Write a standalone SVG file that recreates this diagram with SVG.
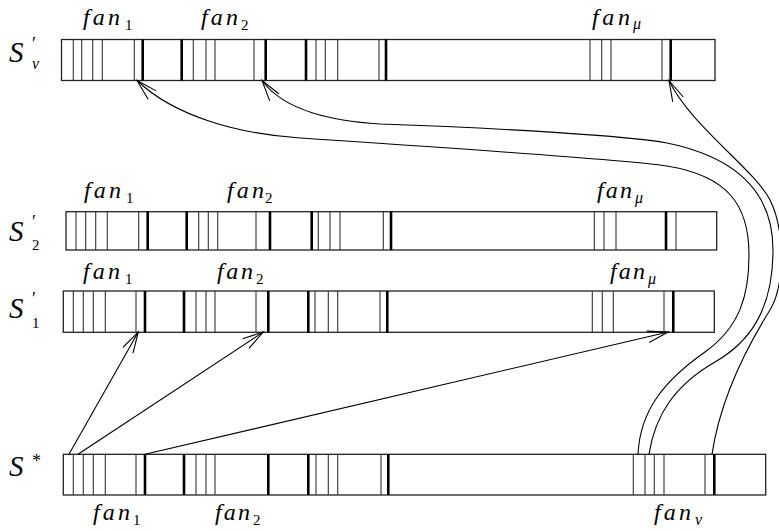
<svg xmlns="http://www.w3.org/2000/svg" width="779" height="531" viewBox="0 0 779 531">
<defs>
<style>
.bar{fill:#fff;stroke:#222;stroke-width:1.3}
.tn{stroke:#333;stroke-width:1.1}
.tk{stroke:#000;stroke-width:2.6}
.fan{font-family:"Liberation Serif",serif;font-style:italic;font-size:24px;fill:#000}
.sub{font-family:"Liberation Serif",serif;font-size:15px;fill:#000}
.subi{font-family:"Liberation Serif",serif;font-style:italic;font-size:16px;fill:#000}
.S{font-family:"Liberation Serif",serif;font-style:italic;font-size:29px;fill:#000}
.pr{font-family:"Liberation Serif",serif;font-size:18px;fill:#000}
.con{fill:none;stroke:#000;stroke-width:1.1}
</style>
<marker id="ah" markerUnits="userSpaceOnUse" markerWidth="30" markerHeight="30" refX="0" refY="0" viewBox="-25 -12 30 24" orient="auto" overflow="visible">
<path d="M-21,-5.8 L0,0 L-21,5.8" fill="none" stroke="#000" stroke-width="1.1"/>
</marker>
</defs>

<g id="Snu">
<rect class="bar" x="61.5" y="39.5" width="653.5" height="41"/>
<g class="tn">
<line x1="73.3" y1="39.5" x2="73.3" y2="80.5"/><line x1="81.7" y1="39.5" x2="81.7" y2="80.5"/><line x1="92.7" y1="39.5" x2="92.7" y2="80.5"/><line x1="102.3" y1="39.5" x2="102.3" y2="80.5"/><line x1="134.3" y1="39.5" x2="134.3" y2="80.5"/><line x1="193.3" y1="39.5" x2="193.3" y2="80.5"/><line x1="206" y1="39.5" x2="206" y2="80.5"/><line x1="215" y1="39.5" x2="215" y2="80.5"/><line x1="254" y1="39.5" x2="254" y2="80.5"/><line x1="316" y1="39.5" x2="316" y2="80.5"/><line x1="325.3" y1="39.5" x2="325.3" y2="80.5"/><line x1="337.7" y1="39.5" x2="337.7" y2="80.5"/><line x1="379" y1="39.5" x2="379" y2="80.5"/><line x1="590" y1="39.5" x2="590" y2="80.5"/><line x1="601.7" y1="39.5" x2="601.7" y2="80.5"/><line x1="611" y1="39.5" x2="611" y2="80.5"/><line x1="662" y1="39.5" x2="662" y2="80.5"/>
</g>
<g class="tk">
<line x1="142.7" y1="39.5" x2="142.7" y2="80.5"/><line x1="181.7" y1="39.5" x2="181.7" y2="80.5"/><line x1="265.7" y1="39.5" x2="265.7" y2="80.5"/><line x1="306" y1="39.5" x2="306" y2="80.5"/><line x1="386" y1="39.5" x2="386" y2="80.5"/><line x1="670.7" y1="39.5" x2="670.7" y2="80.5"/>
</g>
<text class="S" x="9" y="61.5">S</text><text class="pr" x="32" y="50">′</text><text class="subi" x="32" y="69">ν</text>
<text class="fan" x="83" y="25" textLength="37" lengthAdjust="spacing">fan</text><text class="sub" x="125" y="30">1</text>
<text class="fan" x="201" y="25" textLength="37" lengthAdjust="spacing">fan</text><text class="sub" x="241" y="30">2</text>
<text class="fan" x="592" y="25" textLength="38" lengthAdjust="spacing">fan</text><text class="subi" x="633" y="29">μ</text>
</g>

<g id="S2">
<rect class="bar" x="66" y="211.7" width="650.7" height="38.3"/>
<g class="tn">
<line x1="76" y1="211.7" x2="76" y2="250"/><line x1="85.7" y1="211.7" x2="85.7" y2="250"/><line x1="95.7" y1="211.7" x2="95.7" y2="250"/><line x1="107.3" y1="211.7" x2="107.3" y2="250"/><line x1="138.7" y1="211.7" x2="138.7" y2="250"/><line x1="198.7" y1="211.7" x2="198.7" y2="250"/><line x1="208.3" y1="211.7" x2="208.3" y2="250"/><line x1="217.7" y1="211.7" x2="217.7" y2="250"/><line x1="256" y1="211.7" x2="256" y2="250"/><line x1="318.3" y1="211.7" x2="318.3" y2="250"/><line x1="330" y1="211.7" x2="330" y2="250"/><line x1="340" y1="211.7" x2="340" y2="250"/><line x1="383.3" y1="211.7" x2="383.3" y2="250"/><line x1="594.3" y1="211.7" x2="594.3" y2="250"/><line x1="604" y1="211.7" x2="604" y2="250"/><line x1="616" y1="211.7" x2="616" y2="250"/><line x1="676" y1="211.7" x2="676" y2="250"/>
</g>
<g class="tk">
<line x1="147.7" y1="211.7" x2="147.7" y2="250"/><line x1="186.7" y1="211.7" x2="186.7" y2="250"/><line x1="270" y1="211.7" x2="270" y2="250"/><line x1="311.7" y1="211.7" x2="311.7" y2="250"/><line x1="391" y1="211.7" x2="391" y2="250"/><line x1="666" y1="211.7" x2="666" y2="250"/>
</g>
<text class="S" x="9" y="241">S</text><text class="pr" x="32" y="228">′</text><text class="sub" x="32" y="250">2</text>
<text class="fan" x="84" y="198" textLength="37" lengthAdjust="spacing">fan</text><text class="sub" x="126" y="203">1</text>
<text class="fan" x="227" y="198" textLength="37" lengthAdjust="spacing">fan</text><text class="sub" x="265" y="203">2</text>
<text class="fan" x="597" y="198" textLength="35" lengthAdjust="spacing">fan</text><text class="subi" x="635" y="203">μ</text>
</g>

<g id="S1">
<rect class="bar" x="63.3" y="291" width="651" height="41.3"/>
<g class="tn">
<line x1="73.3" y1="291" x2="73.3" y2="332.3"/><line x1="83.3" y1="291" x2="83.3" y2="332.3"/><line x1="93.3" y1="291" x2="93.3" y2="332.3"/><line x1="105.3" y1="291" x2="105.3" y2="332.3"/><line x1="136" y1="291" x2="136" y2="332.3"/><line x1="196" y1="291" x2="196" y2="332.3"/><line x1="206" y1="291" x2="206" y2="332.3"/><line x1="215" y1="291" x2="215" y2="332.3"/><line x1="256" y1="291" x2="256" y2="332.3"/><line x1="315" y1="291" x2="315" y2="332.3"/><line x1="328.3" y1="291" x2="328.3" y2="332.3"/><line x1="337.7" y1="291" x2="337.7" y2="332.3"/><line x1="380" y1="291" x2="380" y2="332.3"/><line x1="592.3" y1="291" x2="592.3" y2="332.3"/><line x1="602.3" y1="291" x2="602.3" y2="332.3"/><line x1="613.3" y1="291" x2="613.3" y2="332.3"/><line x1="664" y1="291" x2="664" y2="332.3"/>
</g>
<g class="tk">
<line x1="145" y1="291" x2="145" y2="332.3"/><line x1="184" y1="291" x2="184" y2="332.3"/><line x1="268.3" y1="291" x2="268.3" y2="332.3"/><line x1="308.3" y1="291" x2="308.3" y2="332.3"/><line x1="387.3" y1="291" x2="387.3" y2="332.3"/><line x1="673.3" y1="291" x2="673.3" y2="332.3"/>
</g>
<text class="S" x="9" y="318">S</text><text class="pr" x="32" y="305">′</text><text class="sub" x="32" y="328">1</text>
<text class="fan" x="83" y="279" textLength="37" lengthAdjust="spacing">fan</text><text class="sub" x="125" y="284">1</text>
<text class="fan" x="217" y="279" textLength="36" lengthAdjust="spacing">fan</text><text class="sub" x="256" y="284">2</text>
<text class="fan" x="610" y="279" textLength="35" lengthAdjust="spacing">fan</text><text class="subi" x="648" y="284">μ</text>
</g>

<g id="Sstar">
<rect class="bar" x="63.3" y="454.3" width="702.4" height="40.7"/>
<g class="tn">
<line x1="73.3" y1="454.3" x2="73.3" y2="495"/><line x1="83.3" y1="454.3" x2="83.3" y2="495"/><line x1="93.3" y1="454.3" x2="93.3" y2="495"/><line x1="105.3" y1="454.3" x2="105.3" y2="495"/><line x1="136" y1="454.3" x2="136" y2="495"/><line x1="196" y1="454.3" x2="196" y2="495"/><line x1="206" y1="454.3" x2="206" y2="495"/><line x1="215" y1="454.3" x2="215" y2="495"/><line x1="316" y1="454.3" x2="316" y2="495"/><line x1="328.3" y1="454.3" x2="328.3" y2="495"/><line x1="337.7" y1="454.3" x2="337.7" y2="495"/><line x1="381" y1="454.3" x2="381" y2="495"/><line x1="633.3" y1="454.3" x2="633.3" y2="495"/><line x1="645" y1="454.3" x2="645" y2="495"/><line x1="654.3" y1="454.3" x2="654.3" y2="495"/><line x1="664" y1="454.3" x2="664" y2="495"/><line x1="705" y1="454.3" x2="705" y2="495"/>
</g>
<g class="tk">
<line x1="145" y1="454.3" x2="145" y2="495"/><line x1="184" y1="454.3" x2="184" y2="495"/><line x1="268.3" y1="454.3" x2="268.3" y2="495"/><line x1="308.3" y1="454.3" x2="308.3" y2="495"/><line x1="388.3" y1="454.3" x2="388.3" y2="495"/><line x1="714.3" y1="454.3" x2="714.3" y2="495"/>
</g>
<text class="S" x="9" y="476">S</text><text class="pr" x="32" y="467">*</text>
<text class="fan" x="93" y="520" textLength="37" lengthAdjust="spacing">fan</text><text class="sub" x="133" y="525">1</text>
<text class="fan" x="215" y="520" textLength="35" lengthAdjust="spacing">fan</text><text class="sub" x="253" y="525">2</text>
<text class="fan" x="654" y="520" textLength="37" lengthAdjust="spacing">fan</text><text class="subi" x="695" y="525">ν</text>
</g>

<g id="connectors">
<line class="con" x1="69" y1="454.3" x2="138.3" y2="332" marker-end="url(#ah)"/>
<line class="con" x1="78" y1="454.3" x2="263.3" y2="332" marker-end="url(#ah)"/>
<line class="con" x1="145" y1="454.3" x2="668.3" y2="332" marker-end="url(#ah)"/>
<path class="con" d="M638,454.3 C640,410 665,380 705,352 C740,327 749,295 749,255 C749,205 728,176 667,166 C620,159 420,146 300,138 C240,134 175,117 137,80.5" marker-end="url(#ah)"/>
<path class="con" d="M649,454.3 C655,415 675,385 715,362 C748,343 773,312 773,250 C773,195 740,158 667,143 C630,136 500,128 380,124 C335,121 285,112 262,80.5" marker-end="url(#ah)"/>
<path class="con" d="M712,454.3 C720,400 745,350 770,310 C785,285 785,230 770,200 C755,170 690,125 669,80.5" marker-end="url(#ah)"/>
</g>
</svg>
